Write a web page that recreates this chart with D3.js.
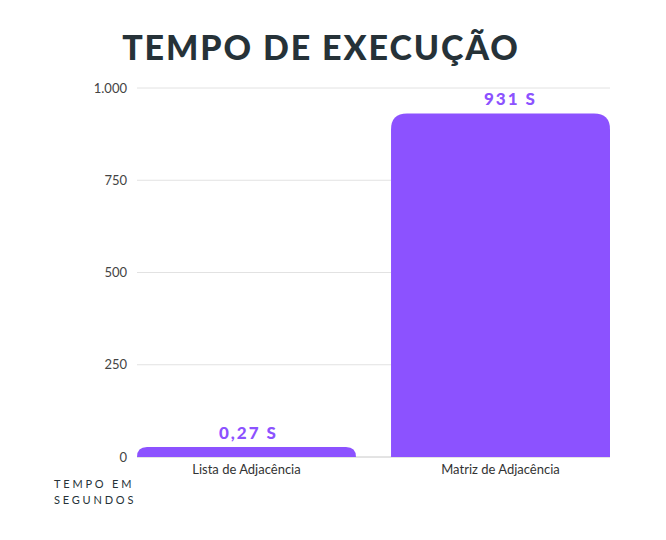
<!DOCTYPE html>
<html><head><meta charset="utf-8">
<script src="https://cdn.jsdelivr.net/npm/d3@7"></script>
<style>body{margin:0;background:#fff}</style>
</head><body>
<svg id="chart" width="666" height="540"></svg>
<script>
const title = "TEMPO DE EXECUÇÃO";
const categories = ["Lista de Adjacência", "Matriz de Adjacência"];
const values = [0.27, 931];
const valueLabels = ["0,27 S", "931 S"];
const yTicks = [0, 250, 500, 750, 1000];
const yTickLabels = ["0", "250", "500", "750", "1.000"];
const axisTitle = ["TEMPO EM", "SEGUNDOS"];

const svg = d3.select("#chart");
const m = {left: 137, right: 56, top: 88, bottom: 83};
const W = 666, H = 540;
const x = d3.scaleBand().domain(categories).range([m.left, W - m.right]).paddingInner(0.138).paddingOuter(0);
const y = d3.scaleLinear().domain([0, 1000]).range([H - m.bottom, m.top]);

// gridlines
svg.append("g").selectAll("line").data(yTicks).join("line")
  .attr("x1", m.left).attr("x2", W - m.right)
  .attr("y1", d => y(d)).attr("y2", d => y(d))
  .attr("stroke", d => d === 0 ? "#c8c8c8" : "#e2e2e2").attr("stroke-width", 1);

// y tick labels
const yAxis = d3.axisLeft(y).tickValues(yTicks).tickSize(0).tickPadding(10)
  .tickFormat((d, i) => yTickLabels[i]);
const ga = svg.append("g").attr("transform", `translate(${m.left},0)`).call(yAxis);
ga.select(".domain").remove();
ga.selectAll("text").attr("font-family", "Lato, sans-serif").attr("font-size", 13).attr("fill", "#444");

// bars with rounded tops (minimum visible height for tiny values)
const minH = 10;
function barPath(x0, w, yTop, yBase) {
  const h = yBase - yTop;
  const r = Math.min(16, h, w / 2);
  return `M${x0},${yBase} L${x0},${yTop + r} Q${x0},${yTop} ${x0 + r},${yTop} L${x0 + w - r},${yTop} Q${x0 + w},${yTop} ${x0 + w},${yTop + r} L${x0 + w},${yBase} Z`;
}
svg.append("g").selectAll("path").data(categories).join("path")
  .attr("d", (c, i) => {
    const yb = y(0);
    const yt = Math.min(y(values[i]), yb - minH);
    return barPath(x(c), x.bandwidth(), yt, yb);
  })
  .attr("fill", "#8c52ff");

// value labels
svg.append("g").selectAll("text").data(categories).join("text")
  .attr("x", (c, i) => x(c) + x.bandwidth() / 2 + (i === 1 ? 10 : 2))
  .attr("y", (c, i) => Math.min(y(values[i]), y(0) - minH) - 8)
  .attr("text-anchor", "middle")
  .attr("font-family", "Lato, sans-serif").attr("font-weight", 900)
  .attr("font-size", 17).attr("letter-spacing", 2).attr("fill", "#8c52ff")
  .text((c, i) => valueLabels[i]);

// category labels
const xAxis = d3.axisBottom(x).tickSize(0).tickPadding(8);
const gx = svg.append("g").attr("transform", `translate(0,${y(0)})`).call(xAxis);
gx.select(".domain").remove();
gx.selectAll("text").attr("font-family", "Lato, sans-serif").attr("font-size", 13).attr("fill", "#333");

// axis title
svg.append("g").selectAll("text").data(axisTitle).join("text")
  .attr("x", 54).attr("y", (d, i) => 488 + i * 16)
  .attr("font-family", "Lato, sans-serif").attr("font-size", 11)
  .attr("letter-spacing", 2.8).attr("fill", "#263238")
  .text(d => d);

// title
svg.append("text").attr("x", 321).attr("y", 60).attr("text-anchor", "middle")
  .attr("font-family", "Lato, sans-serif").attr("font-weight", 900)
  .attr("font-size", 34).attr("letter-spacing", 1.9).attr("fill", "#263238")
  .text(title);
</script>
</body></html>
